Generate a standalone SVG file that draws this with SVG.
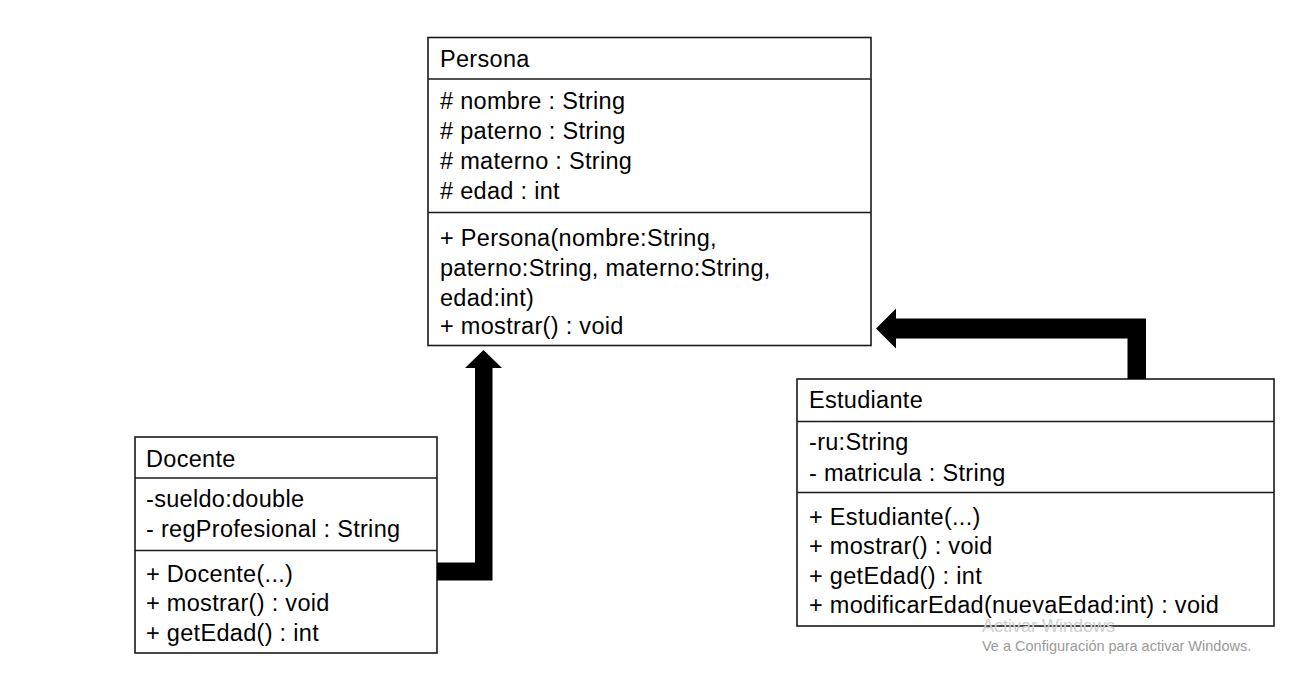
<svg xmlns="http://www.w3.org/2000/svg" width="1291" height="673" viewBox="0 0 1291 673">
<style>
.box{fill:#fff;stroke:#1a1a1a;stroke-width:1.6}
.div{stroke:#1a1a1a;stroke-width:1.6}
.t{font-family:"Liberation Sans",Arial,sans-serif;font-size:23.5px;letter-spacing:0.3px;fill:#000}
.conn{fill:#000}
.wm1{font-family:"Liberation Sans",Arial,sans-serif;font-size:18px;fill:#d0d0d0}
.wm2{font-family:"Liberation Sans",Arial,sans-serif;font-size:14.5px;fill:#9a9a9a}
</style>
<rect width="1291" height="673" fill="#fff"/>
<g id="persona">
<rect class="box" x="428" y="37.5" width="443" height="308"/>
<line class="div" x1="428" y1="79" x2="871" y2="79"/>
<line class="div" x1="428" y1="212.5" x2="871" y2="212.5"/>
<text class="t" x="440" y="67">Persona</text>
<text class="t" x="440" y="109">#&#160;nombre : String</text>
<text class="t" x="440" y="139">#&#160;paterno : String</text>
<text class="t" x="440" y="169">#&#160;materno : String</text>
<text class="t" x="440" y="199">#&#160;edad : int</text>
<text class="t" x="440" y="246">+ Persona(nombre:String,</text>
<text class="t" x="440" y="276">paterno:String, materno:String,</text>
<text class="t" x="440" y="306">edad:int)</text>
<text class="t" x="440" y="334">+ mostrar() : void</text>
</g>
<g id="docente">
<rect class="box" x="135" y="437" width="302" height="216"/>
<line class="div" x1="135" y1="478" x2="437" y2="478"/>
<line class="div" x1="135" y1="550.5" x2="437" y2="550.5"/>
<text class="t" x="146" y="467">Docente</text>
<text class="t" x="146" y="507">-sueldo:double</text>
<text class="t" x="146" y="537">- regProfesional : String</text>
<text class="t" x="146" y="582">+ Docente(...)</text>
<text class="t" x="146" y="611">+ mostrar() : void</text>
<text class="t" x="146" y="641">+ getEdad() : int</text>
</g>
<g id="estudiante">
<rect class="box" x="797" y="379" width="477" height="247"/>
<line class="div" x1="797" y1="421.5" x2="1274" y2="421.5"/>
<line class="div" x1="797" y1="492.5" x2="1274" y2="492.5"/>
<text class="t" x="809" y="408">Estudiante</text>
<text class="t" x="809" y="450">-ru:String</text>
<text class="t" x="809" y="481">- matricula : String</text>
<text class="t" x="809" y="525">+ Estudiante(...)</text>
<text class="t" x="809" y="554">+ mostrar() : void</text>
<text class="t" x="809" y="584">+ getEdad() : int</text>
<text class="t" x="809" y="613">+ modificarEdad(nuevaEdad:int) : void</text>
</g>
<g id="connectors">
<polygon class="conn" points="437,562.5 475,562.5 475,368 465,368 483.5,350 502,368 492.5,368 492.5,580.5 437,580.5"/>
<polygon class="conn" points="1146,379 1146,318.5 896,318.5 896,308.5 876,328.5 896,348.5 896,338.5 1127.5,338.5 1127.5,379"/>
</g>
<text class="wm1" x="982" y="632">Activar Windows</text>
<text class="wm2" x="982" y="651">Ve a Configuración para activar Windows.</text>
</svg>
